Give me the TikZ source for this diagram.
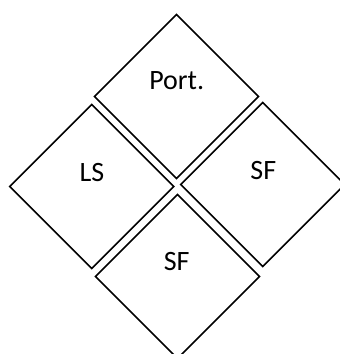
\documentclass[tikz,border=0pt]{standalone}
\usepackage{fontspec}
\setmainfont{Carlito}
\begin{document}
\begin{tikzpicture}[x=1pt,y=-1pt,
  dia/.style={draw=black,line width=1.5pt,line join=miter},
  lab/.style={anchor=base,inner sep=0pt,font=\fontsize{28}{30}\selectfont}]
\useasboundingbox (0,0) rectangle (340,354);
% diamonds
\draw[dia] (176.5,14.5) -- (258.5,96.5) -- (176.5,178.5) -- (94.5,96.5) -- cycle;
\draw[dia] (91.7,104.5) -- (173.7,186.5) -- (91.7,268.5) -- (9.7,186.5) -- cycle;
\draw[dia] (262.7,102.5) -- (344.7,184.5) -- (262.7,266.5) -- (180.7,184.5) -- cycle;
\draw[dia] (177.5,194.5) -- (259.5,276.5) -- (177.5,358.5) -- (95.5,276.5) -- cycle;
% labels
\node[lab] (port) at (176.7,89.3) {Port.};
\node[lab] (ls) at (92,181.7) {LS};
\node[lab] (sfr) at (263.3,179.3) {SF};
\node[lab] (sfb) at (176.7,270.7) {SF};
\end{tikzpicture}
\end{document}
